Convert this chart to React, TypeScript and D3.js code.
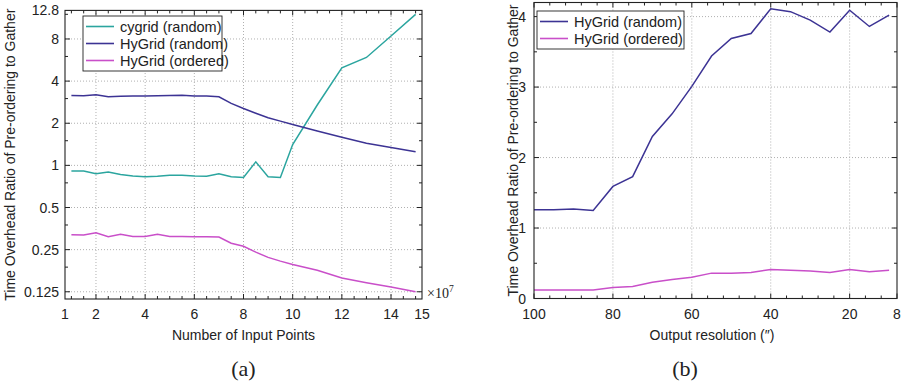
import { useEffect, useRef } from "react";
import * as d3 from "d3";

// (a) number of input points, in units of 1e7
const inputPoints = [1, 1.5, 2, 2.5, 3, 3.5, 4, 4.5, 5, 5.5, 6, 6.5, 7, 7.5, 8, 8.5, 9, 9.5, 10, 11, 12, 13, 14, 15];
const cygridRandomA = [0.91, 0.91, 0.87, 0.895, 0.86, 0.84, 0.83, 0.835, 0.85, 0.85, 0.84, 0.835, 0.87, 0.83, 0.82, 1.06, 0.83, 0.82, 1.41, 2.7, 4.98, 5.9, 8.4, 12.0];
const hygridRandomA = [3.16, 3.14, 3.2, 3.09, 3.12, 3.13, 3.13, 3.14, 3.16, 3.17, 3.13, 3.13, 3.09, 2.77, 2.55, 2.36, 2.19, 2.07, 1.96, 1.76, 1.59, 1.44, 1.34, 1.25];
const hygridOrderedA = [0.32, 0.318, 0.33, 0.309, 0.322, 0.31, 0.31, 0.322, 0.31, 0.31, 0.309, 0.309, 0.308, 0.278, 0.264, 0.24, 0.22, 0.207, 0.196, 0.178, 0.157, 0.145, 0.135, 0.125];
const yTicksA = [0.125, 0.25, 0.5, 1, 2, 4, 8, 12.8];
const yTickLabelsA = ["0.125", "0.25", "0.5", "1", "2", "4", "8", "12.8"];
const xTicksA = [2, 4, 6, 8, 10, 12, 14];

// (b) output resolution in arcsec
const resolution = [100, 95, 90, 85, 80, 75, 70, 65, 60, 55, 50, 45, 40, 35, 30, 25, 20, 15, 10];
const hygridRandomB = [1.26, 1.26, 1.27, 1.25, 1.59, 1.73, 2.3, 2.62, 3.01, 3.44, 3.69, 3.76, 4.11, 4.07, 3.95, 3.78, 4.09, 3.86, 4.02];
const hygridOrderedB = [0.12, 0.12, 0.12, 0.12, 0.155, 0.17, 0.23, 0.27, 0.3, 0.36, 0.36, 0.37, 0.41, 0.4, 0.39, 0.37, 0.41, 0.38, 0.4];
const xTicksB = [100, 80, 60, 40, 20, 8];
const yTicksB = [0, 1, 2, 3, 4];

const TEAL = "#2ba59f";
const PURPLE = "#3c3394";
const MAGENTA = "#c94fc9";
const FONT = "'Liberation Sans', Arial, sans-serif";
const SERIF = "'Liberation Serif', 'DejaVu Serif', serif";
const FS = 14;

type Series = { name: string; color: string; values: number[] };
type G = d3.Selection<SVGGElement, unknown, null, undefined>;

export default function App() {
  const svgRef = useRef<SVGSVGElement>(null);

  useEffect(() => {
    if (!svgRef.current) return;
    const svg = d3.select(svgRef.current);
    svg.selectAll("*").remove();

    const drawFrame = (g: G, x0: number, x1: number, y0: number, y1: number) => {
      g.append("rect")
        .attr("x", x0)
        .attr("y", y1)
        .attr("width", x1 - x0)
        .attr("height", y0 - y1)
        .attr("fill", "none")
        .attr("stroke", "#222")
        .attr("stroke-width", 1.1);
    };

    // ticks point inwards, mirrored on the opposite side
    const tickX = (g: G, px: number, y0: number, y1: number, len: number) => {
      g.append("line").attr("x1", px).attr("x2", px).attr("y1", y0).attr("y2", y0 - len).attr("stroke", "#222");
      g.append("line").attr("x1", px).attr("x2", px).attr("y1", y1).attr("y2", y1 + len).attr("stroke", "#222");
    };
    const tickY = (g: G, py: number, x0: number, x1: number, len: number) => {
      g.append("line").attr("y1", py).attr("y2", py).attr("x1", x0).attr("x2", x0 + len).attr("stroke", "#222");
      g.append("line").attr("y1", py).attr("y2", py).attr("x1", x1).attr("x2", x1 - len).attr("stroke", "#222");
    };

    const grid = (g: G, x1: number, x2: number, y1: number, y2: number) => {
      g.append("line")
        .attr("x1", x1).attr("x2", x2).attr("y1", y1).attr("y2", y2)
        .attr("stroke", "#b0b0b0").attr("stroke-dasharray", "1,2");
    };

    const label = (g: G, x: number, y: number, s: string, anchor = "middle", size = FS) =>
      g.append("text")
        .attr("x", x)
        .attr("y", y)
        .attr("text-anchor", anchor)
        .attr("font-family", FONT)
        .attr("font-size", size)
        .attr("fill", "#222")
        .text(s);

    const legend = (g: G, series: Series[], bx: number, by: number, bw: number, rowH: number) => {
      const lg = g.append("g");
      lg.append("rect")
        .attr("x", bx)
        .attr("y", by)
        .attr("width", bw)
        .attr("height", rowH * series.length + 4)
        .attr("fill", "#fff")
        .attr("stroke", "#222")
        .attr("stroke-width", 0.9);
      series.forEach((s, i) => {
        const cy = by + 2 + rowH * (i + 0.5);
        lg.append("line")
          .attr("x1", bx + 3)
          .attr("x2", bx + 31)
          .attr("y1", cy)
          .attr("y2", cy)
          .attr("stroke", s.color)
          .attr("stroke-width", 1.6);
        label(lg, bx + 37, cy, s.name, "start", 14.5).attr("dy", "0.36em");
      });
    };

    // ---------- (a) ----------
    const ga = svg.append("g");
    const xA = d3.scaleLinear().domain([0.74, 15.26]).range([65, 422]);
    const yA = d3.scaleLog().base(2).domain([0.111, 12.8]).range([299, 10.4]);
    const [ax0, ax1] = xA.range();
    const [ay0, ay1] = yA.range();

    xTicksA.forEach((t) => grid(ga, xA(t), xA(t), ay0, ay1));
    yTicksA.slice(0, -1).forEach((t) => grid(ga, ax0, ax1, yA(t), yA(t)));

    const seriesA: Series[] = [
      { name: "cygrid (random)", color: TEAL, values: cygridRandomA },
      { name: "HyGrid (random)", color: PURPLE, values: hygridRandomA },
      { name: "HyGrid (ordered)", color: MAGENTA, values: hygridOrderedA },
    ];
    seriesA.forEach((s) => {
      const line = d3
        .line<number>()
        .x((_, i) => xA(inputPoints[i]))
        .y((d) => yA(d));
      ga.append("path")
        .datum(s.values)
        .attr("fill", "none")
        .attr("stroke", s.color)
        .attr("stroke-width", 1.5)
        .attr("d", line);
    });

    drawFrame(ga, ax0, ax1, ay0, ay1);

    d3.range(1, 15.01, 0.5).forEach((t) => {
      tickX(ga, xA(t), ay0, ay1, xTicksA.includes(t) ? 5 : 3);
    });
    yTicksA.slice(0, -1).forEach((t) => {
      tickY(ga, yA(t), ax0, ax1, 5);
      tickY(ga, yA(t * 1.5), ax0, ax1, 3);
    });

    const xLabelsA = [
      { v: xA.domain()[0], s: "1" },
      ...xTicksA.map((t) => ({ v: t, s: String(t) })),
      { v: xA.domain()[1], s: "15" },
    ];
    xLabelsA.forEach((l) => label(ga, xA(l.v), 319, l.s));
    yTicksA.forEach((t, i) => label(ga, ax0 - 6, yA(t), yTickLabelsA[i], "end").attr("dy", "0.36em"));

    const exp = ga.append("text")
      .attr("x", 427)
      .attr("y", 298)
      .attr("font-family", SERIF)
      .attr("font-size", 14)
      .attr("fill", "#222");
    exp.append("tspan").text("×10");
    exp.append("tspan").attr("dy", -6).attr("font-size", 9.5).text("7");

    label(ga, (ax0 + ax1) / 2, 340, "Number of Input Points");

    label(ga, 0, 0, "Time Overhead Ratio of Pre-ordering to Gather")
      .attr("transform", `translate(15,${(ay0 + ay1) / 2}) rotate(-90)`);

    legend(ga, seriesA, 83, 16, 139, 17);

    label(ga, (ax0 + ax1) / 2, 376, "(a)", "middle", 22).attr("font-family", SERIF);

    // ---------- (b) ----------
    const gb = svg.append("g");
    const xB = d3.scaleLinear().domain([100, 8]).range([534, 897]);
    const yB = d3.scaleLinear().domain([0, 4.2]).range([298.5, 2.5]);
    const [bx0, bx1] = xB.range();
    const [by0, by1] = yB.range();

    xTicksB.slice(1, -1).forEach((t) => grid(gb, xB(t), xB(t), by0, by1));
    yTicksB.slice(1).forEach((t) => grid(gb, bx0, bx1, yB(t), yB(t)));

    const seriesB: Series[] = [
      { name: "HyGrid (random)", color: PURPLE, values: hygridRandomB },
      { name: "HyGrid (ordered)", color: MAGENTA, values: hygridOrderedB },
    ];
    seriesB.forEach((s) => {
      const line = d3
        .line<number>()
        .x((_, i) => xB(resolution[i]))
        .y((d) => yB(d));
      gb.append("path")
        .datum(s.values)
        .attr("fill", "none")
        .attr("stroke", s.color)
        .attr("stroke-width", 1.5)
        .attr("d", line);
    });

    drawFrame(gb, bx0, bx1, by0, by1);

    d3.range(8, 100.1, 4).forEach((t) => {
      tickX(gb, xB(t), by0, by1, xTicksB.includes(t) ? 5 : 3);
    });
    d3.range(0, 4.21, 0.5).forEach((t) => {
      tickY(gb, yB(t), bx0, bx1, Number.isInteger(t) ? 5 : 3);
    });

    xTicksB.forEach((t) => label(gb, xB(t), 319, String(t)));
    yTicksB.forEach((t) => label(gb, bx0 - 8, yB(t), String(t), "end").attr("dy", "0.36em"));

    label(gb, 712, 340, "Output resolution (″)");

    label(gb, 0, 0, "Time Overhead Ratio of Pre-ordering to Gather")
      .attr("transform", `translate(518,${(by0 + by1) / 2}) rotate(-90)`);

    legend(gb, seriesB, 537, 11, 147, 17);

    label(gb, 685, 376, "(b)", "middle", 22).attr("font-family", SERIF);
  }, []);

  return (
    <svg
      ref={svgRef}
      width={902}
      height={384}
      style={{ position: "absolute", left: 0, top: 0, background: "#fff" }}
    />
  );
}
